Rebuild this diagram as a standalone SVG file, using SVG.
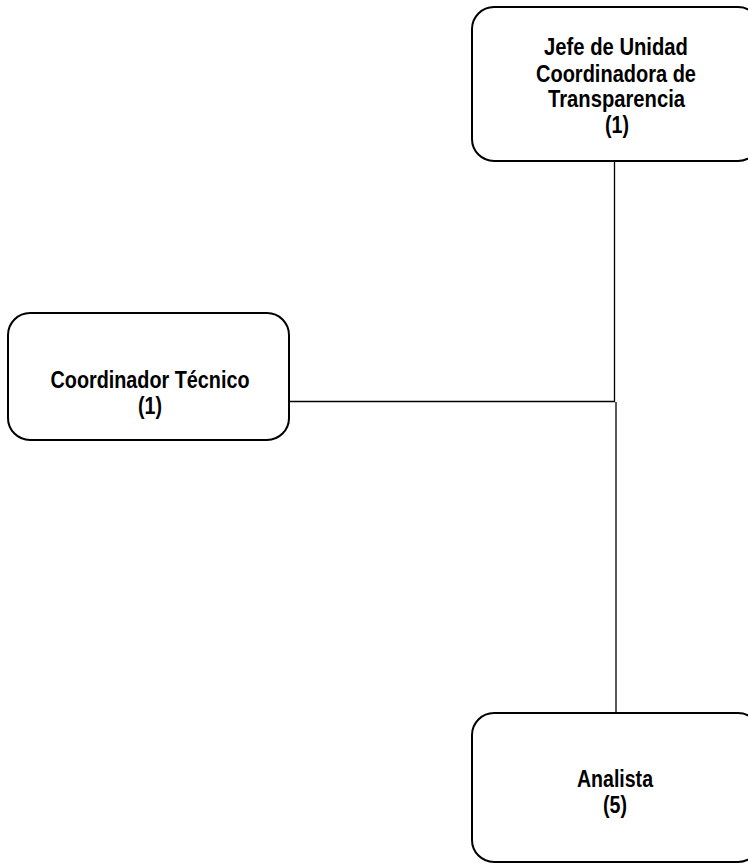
<svg xmlns="http://www.w3.org/2000/svg" width="748" height="865" viewBox="0 0 748 865">
  <style>
    .box { fill: #ffffff; stroke: #000000; stroke-width: 2; }
    .link { fill: none; stroke: #000000; stroke-width: 1.3; }
    .label { font-family: "Liberation Sans", Arial, sans-serif; font-weight: bold; font-size: 23px; fill: #000000; text-anchor: middle; }
  </style>
  <rect width="748" height="865" fill="#ffffff"/>

  <!-- reporting lines -->
  <g id="connectors">
    <path class="link" d="M614.5 161 V401.5 H289"/>
    <path class="link" d="M616 402 V713"/>
  </g>

  <g id="jefe">
    <rect class="box" x="472" y="7" width="288" height="154" rx="22" ry="22"/>
    <text class="label" x="616" y="54.5" textLength="144" lengthAdjust="spacingAndGlyphs">Jefe de Unidad</text>
    <text class="label" x="616" y="81.5" textLength="160" lengthAdjust="spacingAndGlyphs">Coordinadora de</text>
    <text class="label" x="616.5" y="107" textLength="137" lengthAdjust="spacingAndGlyphs">Transparencia</text>
    <text class="label" x="617" y="132.5" textLength="24" lengthAdjust="spacingAndGlyphs">(1)</text>
  </g>

  <g id="coordinador">
    <rect class="box" x="8" y="313" width="281" height="127" rx="22" ry="22"/>
    <text class="label" x="150" y="388" textLength="199" lengthAdjust="spacingAndGlyphs">Coordinador Técnico</text>
    <text class="label" x="150" y="414" textLength="24" lengthAdjust="spacingAndGlyphs">(1)</text>
  </g>

  <g id="analista">
    <rect class="box" x="472" y="713" width="288" height="149" rx="22" ry="22"/>
    <text class="label" x="615" y="786.5" textLength="76" lengthAdjust="spacingAndGlyphs">Analista</text>
    <text class="label" x="615" y="812.5" textLength="24" lengthAdjust="spacingAndGlyphs">(5)</text>
  </g>
</svg>
